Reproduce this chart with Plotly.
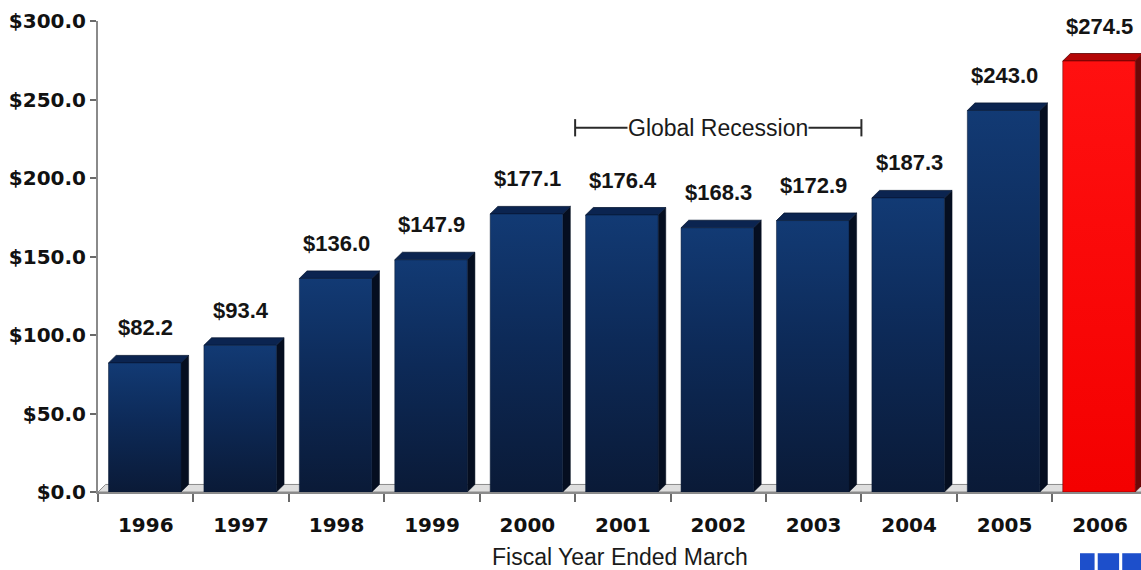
import plotly.graph_objects as go

# Revenue by fiscal year (USD, millions)
years = ["1996", "1997", "1998", "1999", "2000", "2001",
         "2002", "2003", "2004", "2005", "2006"]
revenue = [82.2, 93.4, 136.0, 147.9, 177.1, 176.4,
           168.3, 172.9, 187.3, 243.0, 274.5]
highlight_year = "2006"
recession_span = ("2001", "2003")
recession_label = "Global Recession"
y_ticks = [0, 50, 100, 150, 200, 250, 300]
y_tick_labels = [f"${t:.1f}" for t in y_ticks]
x_title = "Fiscal Year Ended March"

# 3D bar geometry (category units / value units)
LEFT, RIGHT = 0.39, 0.37
DX, DY = 0.08, 4.8
X_MAX = 10.43
REC_Y = 232

navy = dict(front=[[0, "#0a1a37"], [0.55, "#0d2a58"], [1, "#123a74"]],
            top="#0b2450", side="#050e20", edge="#081833")
red = dict(front=[[0, "#f40000"], [1, "#ff1010"]],
           top="#b40606", side="#6c0808", edge="#5a0000")

fig = go.Figure()

# floor strip under the bars
fig.add_trace(go.Scatter(
    x=[-0.5, X_MAX + 1, X_MAX + 1 + DX, -0.5 + DX, -0.5],
    y=[0, 0, DY, DY, 0],
    mode="lines", fill="toself", fillcolor="#dedede",
    line=dict(color="#8a8a8a", width=1), hoverinfo="skip", showlegend=False))

for i, (yr, v) in enumerate(zip(years, revenue)):
    st = red if yr == highlight_year else navy
    xl, xr = i - LEFT, i + RIGHT
    # side face
    fig.add_trace(go.Scatter(
        x=[xr, xr + DX, xr + DX, xr, xr],
        y=[0, DY, v + DY, v, 0],
        mode="lines", fill="toself", fillcolor=st["side"],
        line=dict(color=st["side"], width=0.5), hoverinfo="skip", showlegend=False))
    # top face
    fig.add_trace(go.Scatter(
        x=[xl, xl + DX, xr + DX, xr, xl],
        y=[v, v + DY, v + DY, v, v],
        mode="lines", fill="toself", fillcolor=st["top"],
        line=dict(color=st["edge"], width=0.8), hoverinfo="skip", showlegend=False))
    # front face with vertical gradient
    fig.add_trace(go.Scatter(
        x=[xl, xr, xr, xl, xl],
        y=[0, 0, v, v, 0],
        mode="lines", fill="toself",
        fillgradient=dict(type="vertical", colorscale=st["front"]),
        line=dict(color=st["edge"], width=0.5),
        name=yr, hovertemplate="%{fullData.name}: $" + f"{v:.1f}<extra></extra>",
        showlegend=False))

annotations = []
for i, v in enumerate(revenue):
    annotations.append(dict(
        x=i, y=v, xref="x", yref="y", text=f"${v:.1f}", showarrow=False,
        yshift=35, yanchor="middle",
        font=dict(family="Liberation Sans, Arial", size=22, color="#141414", weight="bold")))

# recession bracket
r0 = years.index(recession_span[0]) - 0.5
r1 = years.index(recession_span[1]) + 0.5
shapes = [
    dict(type="line", xref="x", yref="y", x0=r0, x1=r1, y0=REC_Y, y1=REC_Y,
         line=dict(color="#2a2a2a", width=2)),
    dict(type="line", xref="x", yref="y", x0=r0, x1=r0, y0=REC_Y - 5.5, y1=REC_Y + 5.5,
         line=dict(color="#2a2a2a", width=2)),
    dict(type="line", xref="x", yref="y", x0=r1, x1=r1, y0=REC_Y - 5.5, y1=REC_Y + 5.5,
         line=dict(color="#2a2a2a", width=2)),
]
annotations.append(dict(
    x=(r0 + r1) / 2, y=REC_Y, xref="x", yref="y", text=recession_label,
    showarrow=False, bgcolor="white", borderpad=0,
    font=dict(family="Liberation Sans, Arial", size=23, color="#1a1a1a")))

# axis title
annotations.append(dict(
    x=0.5, y=0, xref="paper", yref="paper", text=x_title, showarrow=False,
    yshift=-65, yanchor="middle",
    font=dict(family="Liberation Sans, Arial", size=23, color="#1a1a1a")))

# corporate logo blocks, bottom-right
logo_blue = "#1d4fcb"
for x0, x1 in [(0.9415, 0.9555), (0.9585, 0.9790), (0.9820, 1.0)]:
    shapes.append(dict(type="rect", xref="paper", yref="paper",
                       x0=x0, x1=x1, y0=-0.175, y1=-0.130,
                       fillcolor=logo_blue, line=dict(width=0), layer="above"))

fig.update_layout(
    width=1141, height=570,
    margin=dict(l=98, r=0, t=21, b=78),
    paper_bgcolor="white", plot_bgcolor="white",
    shapes=shapes, annotations=annotations,
    xaxis=dict(
        range=[-0.5, X_MAX], tickmode="array",
        tickvals=list(range(len(years))), ticktext=years,
        ticks="outside", ticklen=14, tickcolor="rgba(0,0,0,0)",
        minor=dict(tickmode="array", tickvals=[i - 0.5 for i in range(len(years) + 1)],
                   ticks="outside", ticklen=8, tickwidth=2, tickcolor="#6a6a6a"),
        showline=True, linecolor="#8a8a8a", linewidth=2,
        showgrid=False, zeroline=False,
        tickfont=dict(family="DejaVu Sans, Verdana", size=20, color="#111111", weight="bold"),
    ),
    yaxis=dict(
        range=[0, 300], tickmode="array", tickvals=y_ticks, ticktext=y_tick_labels,
        ticks="outside", ticklen=6, tickwidth=2, tickcolor="#6a6a6a",
        showline=True, linecolor="#8a8a8a", linewidth=2,
        showgrid=False, zeroline=False,
        tickfont=dict(family="DejaVu Sans, Verdana", size=20, color="#111111", weight="bold"),
    ),
)

fig.write_html("out.html")
